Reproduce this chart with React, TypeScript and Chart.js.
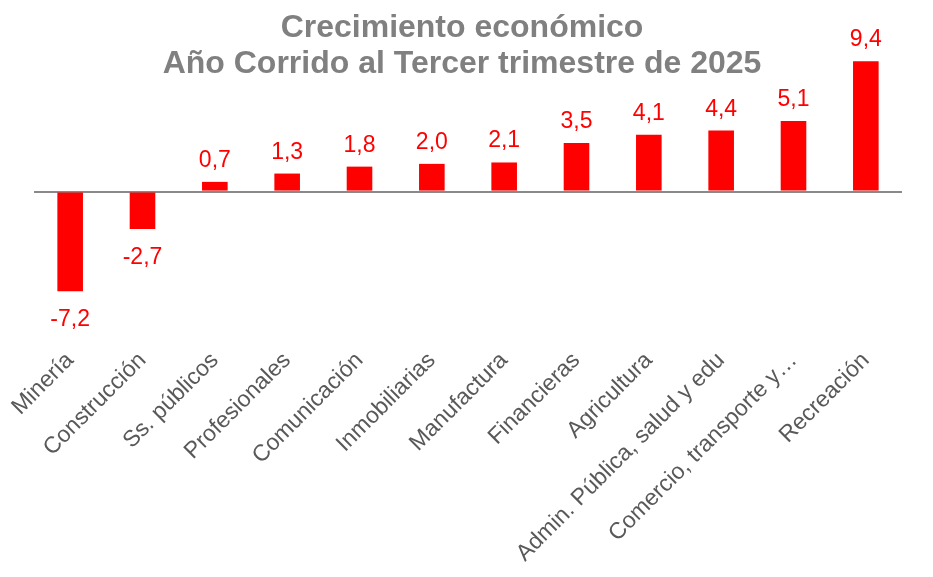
import React, { useEffect, useRef } from "react";
import { Chart, registerables } from "chart.js";

Chart.register(...registerables);

const categories = [
  "Minería",
  "Construcción",
  "Ss. públicos",
  "Profesionales",
  "Comunicación",
  "Inmobiliarias",
  "Manufactura",
  "Financieras",
  "Agricultura",
  "Admin. Pública, salud y edu",
  "Comercio, transporte y…",
  "Recreación",
];

const growth = [-7.2, -2.7, 0.7, 1.3, 1.8, 2.0, 2.1, 3.5, 4.1, 4.4, 5.1, 9.4];

const titleLines = ["Crecimiento económico", "Año Corrido al Tercer trimestre de 2025"];

const FONT = '"Liberation Sans", Arial, sans-serif';

const titlePlugin = {
  id: "customTitle",
  afterDraw(chart: any) {
    const ctx = chart.ctx;
    ctx.save();
    ctx.fillStyle = "#808080";
    ctx.font = `bold 32px ${FONT}`;
    ctx.textAlign = "center";
    ctx.textBaseline = "alphabetic";
    ctx.fillText(titleLines[0], 462, 37);
    ctx.fillText(titleLines[1], 462, 73);
    ctx.restore();
  },
};

const valueLabelPlugin = {
  id: "valueLabels",
  afterDatasetsDraw(chart: any) {
    const ctx = chart.ctx;
    const meta = chart.getDatasetMeta(0);
    const data = chart.data.datasets[0].data as number[];
    ctx.save();
    ctx.fillStyle = "#FF0000";
    ctx.font = `23px ${FONT}`;
    ctx.textAlign = "center";
    ctx.textBaseline = "alphabetic";
    meta.data.forEach((bar: any, i: number) => {
      const v = data[i];
      const txt = v.toFixed(1).replace(".", ",");
      if (v >= 0) {
        ctx.fillText(txt, bar.x, bar.y - 15);
      } else {
        ctx.fillText(txt, bar.x, bar.y + 35);
      }
    });
    ctx.restore();
  },
};

export default function App() {
  const ref = useRef<HTMLCanvasElement | null>(null);

  useEffect(() => {
    document.body.style.margin = "0";
    if (!ref.current) return;
    const chart = new Chart(ref.current, {
      type: "bar",
      data: {
        labels: categories,
        datasets: [
          {
            data: growth,
            backgroundColor: "#FF0000",
            borderWidth: 0,
            barPercentage: 0.354,
            categoryPercentage: 1,
          },
        ],
      },
      options: {
        responsive: false,
        animation: false,
        layout: { padding: { left: 34, right: 31, top: 53, bottom: 0 } },
        plugins: {
          legend: { display: false },
          title: { display: false },
          tooltip: { enabled: false },
        },
        scales: {
          x: {
            grid: { display: false },
            border: { display: false },
            ticks: {
              autoSkip: false,
              maxRotation: 45,
              minRotation: 45,
              padding: -5,
              color: "#595959",
              font: { family: FONT, size: 23 },
            },
            afterFit(scale: any) {
              scale.height = 233;
            },
          },
          y: {
            min: -11,
            max: 10,
            border: { display: false },
            grid: {
              drawTicks: false,
              color: (c: any) => (c.tick && c.tick.value === 0 ? "#898989" : "rgba(0,0,0,0)"),
              lineWidth: (c: any) => (c.tick && c.tick.value === 0 ? 2 : 0),
            },
            ticks: { display: false, stepSize: 1 },
          },
        },
      },
      plugins: [titlePlugin, valueLabelPlugin],
    });
    return () => chart.destroy();
  }, []);

  return (
    <div style={{ width: 933, height: 577 }}>
      <canvas ref={ref} width={933} height={577} />
    </div>
  );
}
